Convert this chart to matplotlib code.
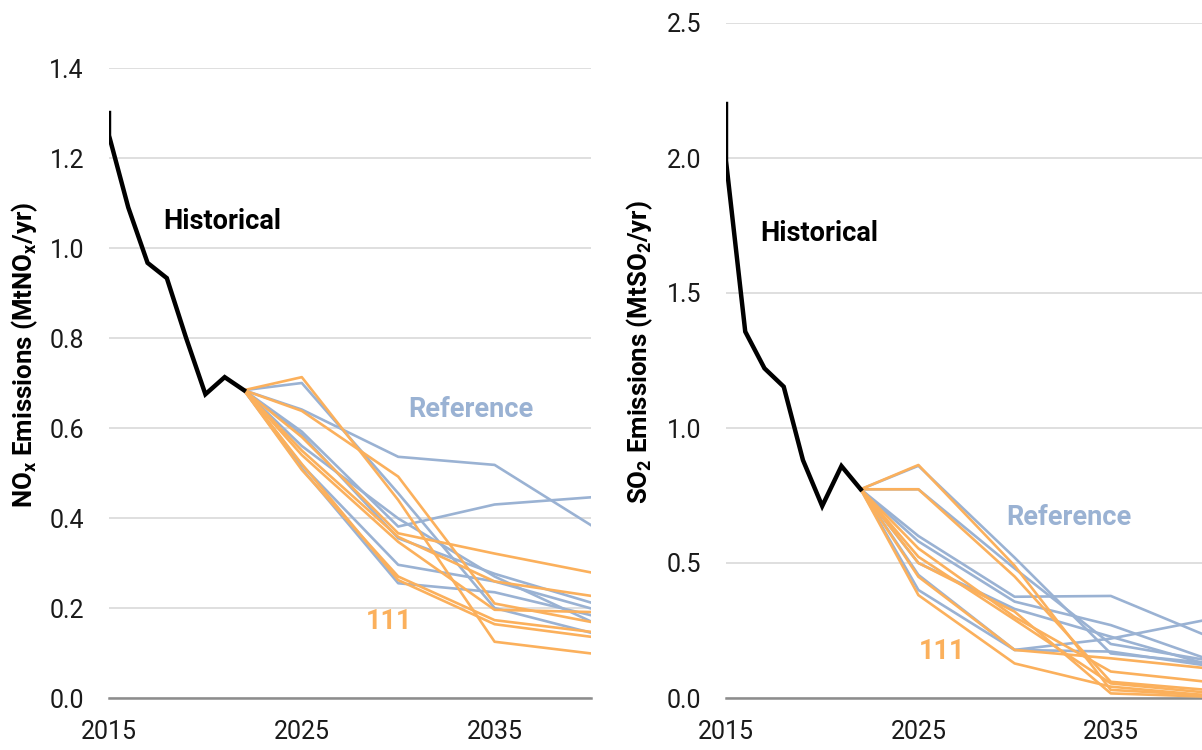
import matplotlib
matplotlib.use("Agg")
import matplotlib.pyplot as plt

plt.rcParams['font.family'] = ['Roboto', 'DejaVu Sans']
plt.rcParams['mathtext.fontset'] = 'custom'
plt.rcParams['mathtext.rm'] = 'Roboto'
plt.rcParams['mathtext.bf'] = 'Roboto:bold'
plt.rcParams['mathtext.it'] = 'Roboto:italic'

#colours
BLUE = '#9AB2D3'
ORANGE = '#FBB05C'
GRID = '#D9D9D9'

#scenario years (all start at the last historical year)
scen_years = [2022, 2025, 2030, 2035, 2040]

#NOx data
nox_hist_years = [2015, 2015, 2016, 2017, 2018, 2019, 2020, 2021, 2022]
nox_hist = [1.30, 1.25, 1.09, 0.967, 0.933, 0.80, 0.675, 0.713, 0.684]

nox_ref = [
    [0.684, 0.641, 0.536, 0.518, 0.384],
    [0.684, 0.592, 0.381, 0.430, 0.446],
    [0.684, 0.700, 0.455, 0.200, 0.145],
    [0.684, 0.585, 0.355, 0.276, 0.212],
    [0.684, 0.518, 0.296, 0.259, 0.199],
    [0.684, 0.510, 0.255, 0.235, 0.184],
    [0.684, 0.560, 0.399, 0.270, 0.170],
]
nox_111 = [
    [0.684, 0.713, 0.440, 0.125, 0.099],
    [0.684, 0.638, 0.492, 0.210, 0.169],
    [0.684, 0.580, 0.366, 0.321, 0.279],
    [0.684, 0.540, 0.347, 0.196, 0.191],
    [0.684, 0.507, 0.270, 0.173, 0.147],
    [0.684, 0.520, 0.262, 0.164, 0.136],
    [0.684, 0.550, 0.358, 0.259, 0.227],
]

#SO2 data
so2_hist_years = [2015, 2015, 2016, 2017, 2018, 2019, 2020, 2021, 2022]
so2_hist = [2.20, 1.99, 1.357, 1.221, 1.153, 0.881, 0.711, 0.859, 0.773]

so2_ref = [
    [0.773, 0.860, 0.520, 0.165, 0.130],
    [0.773, 0.773, 0.480, 0.200, 0.140],
    [0.773, 0.600, 0.375, 0.378, 0.230],
    [0.773, 0.580, 0.357, 0.270, 0.145],
    [0.773, 0.456, 0.178, 0.220, 0.290],
    [0.773, 0.500, 0.330, 0.227, 0.125],
    [0.773, 0.400, 0.178, 0.172, 0.120],
]
so2_111 = [
    [0.773, 0.863, 0.490, 0.030, 0.010],
    [0.773, 0.773, 0.450, 0.060, 0.030],
    [0.773, 0.554, 0.300, 0.098, 0.060],
    [0.773, 0.523, 0.290, 0.054, 0.020],
    [0.773, 0.449, 0.178, 0.147, 0.110],
    [0.773, 0.381, 0.128, 0.042, 0.010],
    [0.773, 0.500, 0.320, 0.017, 0.005],
]

x_ticks = [2015, 2025, 2035]

fig = plt.figure(figsize=(12.02, 7.5), dpi=100)
ax1 = fig.add_axes([109/1202, 52/750, 482/1202, 630/750])
ax2 = fig.add_axes([726/1202, 52/750, 481/1202, 675/750])


def draw_panel(ax, hist_years, hist, ref, s111, ymax, ystep, labels):
    for row in ref:
        ax.plot(scen_years, row, color=BLUE, lw=1.9, zorder=3)
    for row in s111:
        ax.plot(scen_years, row, color=ORANGE, lw=1.9, zorder=3)
    ax.plot(hist_years, hist, color='black', lw=3.2, zorder=4,
            solid_joinstyle='miter')

    ax.set_xlim(2015, 2040)
    ax.set_ylim(0, ymax)
    ax.set_xticks(x_ticks)
    n = int(round(ymax / ystep))
    ax.set_yticks([i * ystep for i in range(n + 1)])
    ax.yaxis.set_major_formatter(matplotlib.ticker.FormatStrFormatter('%.1f'))
    ax.grid(axis='y', color=GRID, lw=1.2, zorder=0)
    ax.set_axisbelow(True)
    for s in ['top', 'right', 'left']:
        ax.spines[s].set_visible(False)
    ax.spines['bottom'].set_color('#8C8C8C')
    ax.spines['bottom'].set_linewidth(1.8)
    ax.tick_params(axis='both', length=0, labelsize=18, colors='#1A1A1A')
    ax.tick_params(axis='y', pad=18)
    ax.tick_params(axis='x', pad=16)

    (hx, hy), (rx, ry), (ox, oy) = labels
    ax.text(hx, hy, 'Historical', fontsize=19.5, fontweight='bold',
            color='black', va='center', ha='left')
    ax.text(rx, ry, 'Reference', fontsize=19.5, fontweight='bold',
            color=BLUE, va='center', ha='left')
    ax.text(ox, oy, '111', fontsize=19.5, fontweight='bold',
            color=ORANGE, va='center', ha='left')


draw_panel(ax1, nox_hist_years, nox_hist, nox_ref, nox_111, 1.4, 0.2,
           [(2017.8, 1.058), (2030.5, 0.642), (2028.3, 0.171)])
draw_panel(ax2, so2_hist_years, so2_hist, so2_ref, so2_111, 2.5, 0.5,
           [(2016.8, 1.722), (2029.55, 0.670), (2025.0, 0.174)])

fig.text(25/1202, 1 - 355/750,
         r'$\mathbf{NO_x}$ Emissions (Mt$\mathbf{NO_x}$/yr)',
         rotation=90, ha='center', va='center', fontsize=18.5,
         fontweight='bold')
fig.text(640/1202, 1 - 352/750,
         r'$\mathbf{SO_2}$ Emissions (Mt$\mathbf{SO_2}$/yr)',
         rotation=90, ha='center', va='center', fontsize=18.5,
         fontweight='bold')

plt.savefig('out.png', dpi=100)
